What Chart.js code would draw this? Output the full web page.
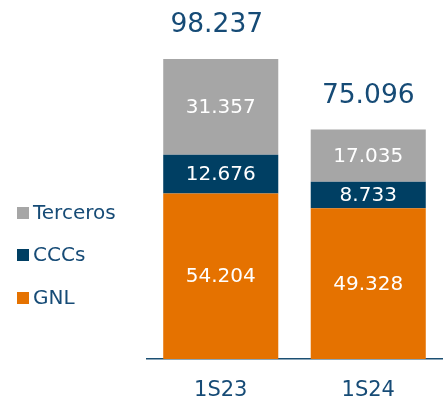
<!DOCTYPE html>
<html>
<head>
<meta charset="utf-8">
<script src="https://cdn.jsdelivr.net/npm/chart.js"></script>
<style>
    body { margin: 0; background: #fff; }
</style>
</head>
<body>
<canvas id="volumeChart" width="445" height="400"></canvas>
<script>
// Chart data
const periods = ['1S23', '1S24'];
const gnlValues = [54204, 49328];
const cccsValues = [12676, 8733];
const tercerosValues = [31357, 17035];

const NAVY_TEXT = '#164b76';
const FONT = '"DejaVu Sans", sans-serif';

// 54204 -> "54.204"
function formatThousands(value) {
    return String(value).replace(/\B(?=(\d{3})+(?!\d))/g, '.');
}

/**
 * Value labels inside the segments and totals above the stacks
 */
const valueLabels = {
    id: 'valueLabels',
    afterDatasetsDraw(chart) {
        const ctx = chart.ctx;
        ctx.save();
        ctx.textAlign = 'center';
        ctx.textBaseline = 'middle';

        chart.data.datasets.forEach((ds, i) => {
            const meta = chart.getDatasetMeta(i);
            meta.data.forEach((bar, j) => {
                ctx.fillStyle = '#ffffff';
                ctx.font = '20px ' + FONT;
                ctx.fillText(formatThousands(ds.data[j]), bar.x, (bar.y + bar.base) / 2 + 1);
            });
        });

        // Totals
        const lastMeta = chart.getDatasetMeta(chart.data.datasets.length - 1);
        lastMeta.data.forEach((bar, j) => {
            const total = chart.data.datasets.reduce((sum, ds) => sum + ds.data[j], 0);
            ctx.fillStyle = NAVY_TEXT;
            ctx.font = '26.5px ' + FONT;
            ctx.fillText(formatThousands(total), bar.x - (j === 0 ? 4 : 0), bar.y - 34);
        });
        ctx.restore();
    }
};

/**
 * Legend on the left, top item = top segment
 */
const sideLegend = {
    id: 'sideLegend',
    afterDraw(chart) {
        const ctx = chart.ctx;
        const rowsY = [213, 255, 298];
        const items = chart.data.datasets.slice().reverse();
        ctx.save();
        ctx.textAlign = 'left';
        ctx.textBaseline = 'middle';
        ctx.font = '20px ' + FONT;
        items.forEach((ds, i) => {
            ctx.fillStyle = ds.backgroundColor;
            ctx.fillRect(17, rowsY[i] - 6, 12, 12);
            ctx.fillStyle = NAVY_TEXT;
            ctx.fillText(ds.label, 33, rowsY[i] + 1);
        });
        ctx.restore();
    }
};

new Chart(document.getElementById('volumeChart'), {
    type: 'bar',
    data: {
        labels: periods,
        datasets: [
            { label: 'GNL', data: gnlValues, backgroundColor: '#e57200' },
            { label: 'CCCs', data: cccsValues, backgroundColor: '#003f63' },
            { label: 'Terceros', data: tercerosValues, backgroundColor: '#a6a6a6' }
        ]
    },
    options: {
        responsive: false,
        animation: false,
        layout: {
            padding: { left: 147, right: 3, top: 23, bottom: 0 }
        },
        datasets: {
            bar: { categoryPercentage: 1, barPercentage: 0.78 }
        },
        plugins: {
            legend: { display: false },
            tooltip: { enabled: false }
        },
        scales: {
            x: {
                stacked: true,
                grid: { display: false },
                border: { display: true, color: '#1b4f72', width: 1.5 },
                ticks: {
                    color: NAVY_TEXT,
                    font: { family: FONT, size: 21 },
                    padding: 11
                },
                afterFit(scale) {
                    scale.height = 41;
                }
            },
            y: {
                stacked: true,
                display: false,
                min: 0,
                max: 110000
            }
        }
    },
    plugins: [valueLabels, sideLegend]
});
</script>
</body>
</html>
